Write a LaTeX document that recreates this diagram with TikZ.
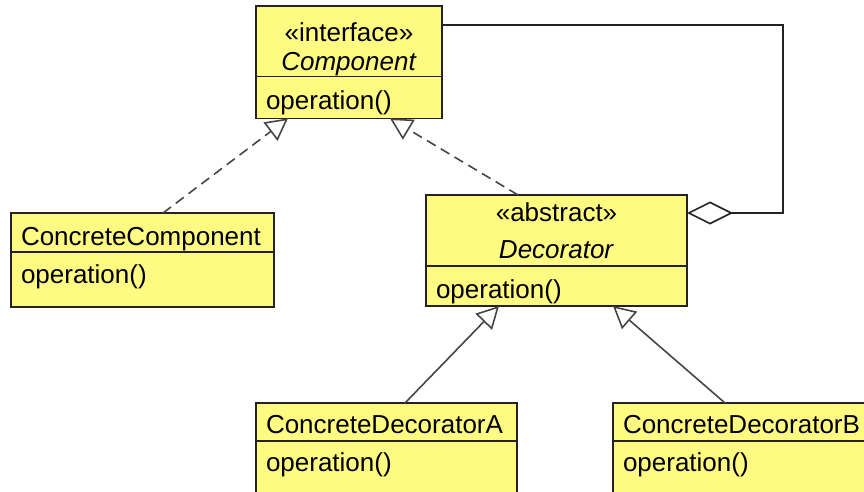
\documentclass[tikz,border=0pt]{standalone}
\usepackage{fontspec}
\setmainfont{Liberation Sans}
\usetikzlibrary{positioning,arrows.meta}
\definecolor{umlyellow}{RGB}{255,250,130}
\definecolor{boxline}{RGB}{35,35,35}
\definecolor{linegray}{RGB}{70,70,70}
\tikzset{
  umlbox/.style={draw=boxline,fill=umlyellow,line width=1.7pt,inner xsep=10pt,inner ysep=0pt,outer sep=0pt,font=\fontsize{26}{30}\selectfont},
  headtwo/.style={umlbox,align=center,anchor=north west},
  headone/.style={umlbox,align=left,anchor=north west},
  opbox/.style={umlbox,align=left},
  realize/.style={draw=linegray,line width=1.6pt,dash pattern=on 10pt off 6pt,-{Triangle[open,length=22pt,width=23pt]}},
  inherit/.style={draw=linegray,line width=1.6pt,-{Triangle[open,length=22pt,width=23pt]}},
  aggregate/.style={draw=boxline,line width=1.6pt,-{Diamond[open,length=46pt,width=23pt]}}
}

\begin{document}
\begin{tikzpicture}[x=1pt,y=-1pt]
    \clip (0,0) rectangle (864,492);
    % interface
    \node[headtwo,text width=166pt,minimum height=70pt] (comp) at (256,6)
      {\rule{0pt}{36pt}«interface»\\[-1pt]\textit{Component}};
    \node[opbox,text width=166pt,text height=33pt,text depth=9pt,below=0pt of comp] (compop) {operation()};
    % concrete component
    \node[headone,text width=243pt,text height=32pt,text depth=7pt] (ccomp) at (11,213) {ConcreteComponent};
    \node[opbox,text width=243pt,text height=31pt,text depth=24pt,below=0pt of ccomp] (ccompop) {operation()};
    % decorator
    \node[headtwo,text width=241pt,minimum height=71pt] (dec) at (426,195)
      {«abstract»\\[7pt]\textit{Decorator}};
    \node[opbox,text width=241pt,text height=32pt,text depth=8pt,below=0pt of dec] (decop) {operation()};
    % concrete decorators
    \node[headone,text width=241pt,text height=30pt,text depth=8pt] (cda) at (256,403) {ConcreteDecoratorA};
    \node[opbox,text width=241pt,text height=30pt,text depth=30pt,below=0pt of cda] (cdaop) {operation()};
    \node[headone,text width=241pt,text height=30pt,text depth=8pt] (cdb) at (613,403) {ConcreteDecoratorB};
    \node[opbox,text width=241pt,text height=30pt,text depth=30pt,below=0pt of cdb] (cdbop) {operation()};
    % connectors
    \coordinate (bend) at (783,25);
    \draw[realize] ([xshift=152pt]ccomp.north west) -- ([xshift=32pt]compop.south west);
    \draw[realize] ([xshift=92pt]dec.north west) -- ([xshift=134pt]compop.south west);
    \draw[inherit] ([xshift=149pt]cda.north west) -- ([xshift=73pt]decop.south west);
    \draw[inherit] ([xshift=112pt]cdb.north west) -- ([xshift=187pt]decop.south west);
    \draw[aggregate] ([yshift=-19pt]comp.north east) -- (bend) |- ([yshift=-18pt]dec.north east);
\end{tikzpicture}
\end{document}
